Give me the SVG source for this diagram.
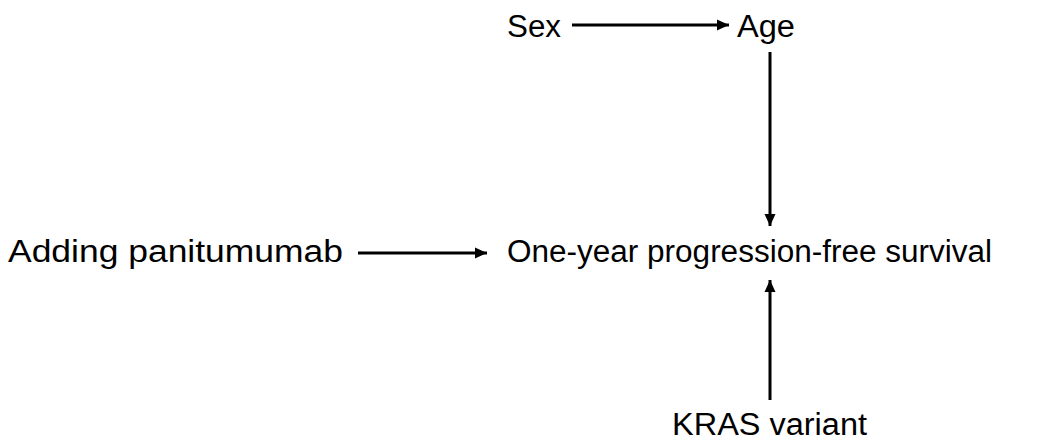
<svg xmlns="http://www.w3.org/2000/svg" width="1045" height="447" viewBox="0 0 1045 447">
<style>
.lbl{font-family:"Liberation Sans",Arial,sans-serif;font-size:31px;fill:#000;text-anchor:start}
.edge{stroke:#000;stroke-width:3;fill:none}
</style>
<defs>
<marker id="ah" markerUnits="userSpaceOnUse" markerWidth="12" markerHeight="12" refX="12" refY="6" orient="auto">
<path d="M0,0.5 L12,6 L0,11.5 Z" fill="#000"/>
</marker>
</defs>
<rect width="1045" height="447" fill="#fff"/>
<g id="connectors">
<line class="edge" x1="572" y1="25" x2="729" y2="25" marker-end="url(#ah)"/>
<line class="edge" x1="770" y1="52" x2="770" y2="226" marker-end="url(#ah)"/>
<line class="edge" x1="358" y1="253" x2="487" y2="253" marker-end="url(#ah)"/>
<line class="edge" x1="770" y1="400" x2="770" y2="280" marker-end="url(#ah)"/>
</g>
<g id="node-sex"><text class="lbl" x="507" y="36.5" textLength="54" lengthAdjust="spacingAndGlyphs">Sex</text></g>
<g id="node-age"><text class="lbl" x="737" y="36.5" textLength="58" lengthAdjust="spacingAndGlyphs">Age</text></g>
<g id="node-panitumumab"><text class="lbl" x="8" y="261.5" textLength="335" lengthAdjust="spacingAndGlyphs">Adding panitumumab</text></g>
<g id="node-pfs"><text class="lbl" x="507" y="261.5" textLength="485" lengthAdjust="spacingAndGlyphs">One-year progression-free survival</text></g>
<g id="node-kras"><text class="lbl" x="672" y="435" textLength="195" lengthAdjust="spacingAndGlyphs">KRAS variant</text></g>
</svg>
